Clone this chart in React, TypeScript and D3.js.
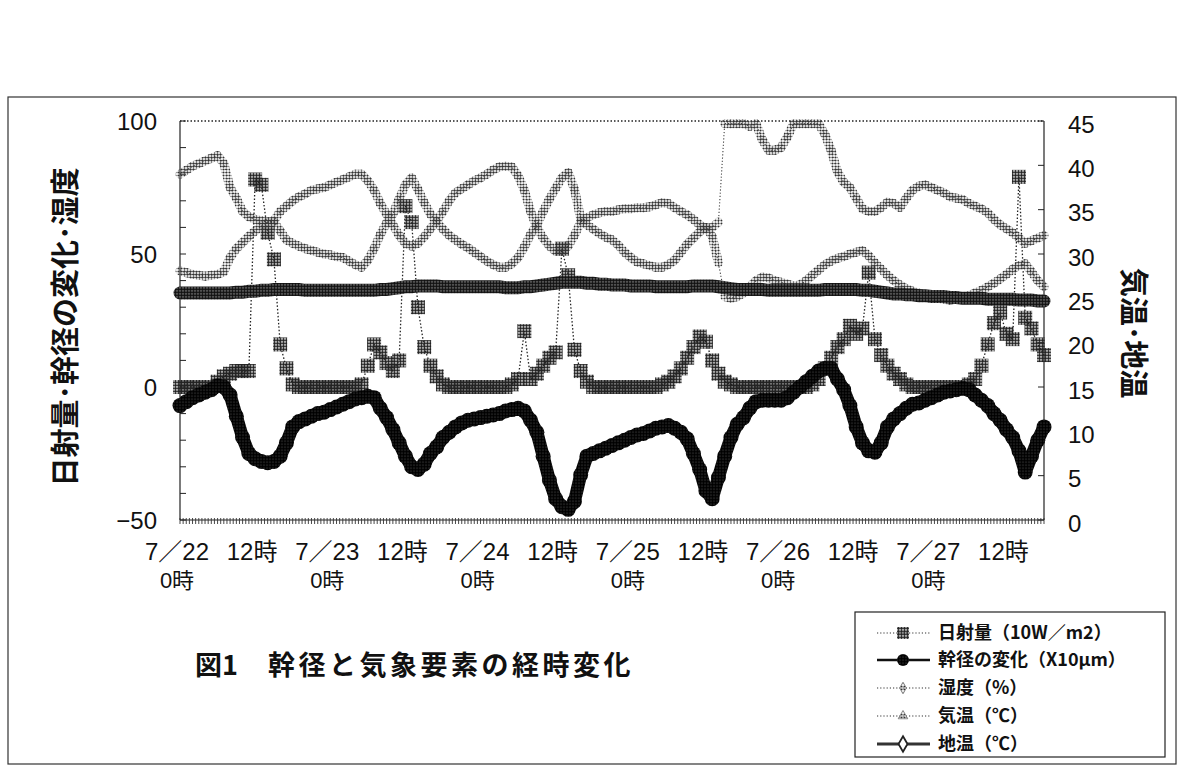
import React, { useEffect, useRef } from 'react';
import * as d3 from 'd3';

// hourly readings, index = hours from 7/22 0時
const radiation = [
  0, 0, 0, 0, 0, 0, 2, 4, 5, 6, 6, 6,
  78, 76, 58, 48, 16, 7, 1, 0, 0, 0, 0, 0,
  0, 0, 0, 0, 0, 1, 8, 16, 13, 9, 6, 10,
  68, 62, 30, 15, 8, 4, 1, 0, 0, 0, 0, 0,
  0, 0, 0, 0, 0, 1, 3, 21, 3, 5, 8, 11,
  13, 52, 42, 14, 6, 2, 0, 0, 0, 0, 0, 0,
  0, 0, 0, 0, 0, 1, 2, 4, 7, 11, 15, 19,
  17, 10, 5, 2, 1, 0, 0, 0, 0, 0, 0, 0,
  0, 0, 0, 0, 0, 1, 3, 7, 11, 15, 18, 23,
  20, 22, 43, 18, 12, 8, 5, 3, 1, 0, 0, 0,
  0, 0, 0, 0, 0, 0, 1, 3, 8, 16, 24, 28,
  20, 18, 79, 26, 22, 16, 12,
];

const stem = [
  -7, -5.5, -4, -3, -2, -1, 0.5, 0, -3, -11, -19, -25,
  -27, -28, -28.5, -28, -26, -21, -15, -13, -12, -11, -10, -9.5,
  -8.5, -7.5, -6.5, -5.5, -4.5, -4, -3.5, -4, -8, -11.5, -16, -21,
  -26, -30, -31, -29, -25, -22.5, -19, -17, -15, -13.5, -12.5, -12,
  -11.5, -11, -10.5, -10, -9, -8.5, -8, -9, -12.5, -17, -26, -35,
  -42, -45, -46, -43, -33, -26, -25, -24, -23, -22, -21, -20,
  -19, -18, -17.5, -16.5, -15.5, -15, -14.5, -15.5, -17, -19.5, -25, -31,
  -39, -42, -34, -26, -19, -14, -11.5, -8, -5.5, -5, -5, -5,
  -5, -4, -2, 0, 2, 4, 6, 7, 7, 3, -1, -7,
  -15, -21, -24, -24.5, -21, -15, -12, -10, -8, -6.5, -6, -5,
  -4, -3, -2, -1.5, -1, -0.5, -1, -3, -5, -7, -10, -12.5,
  -16, -19, -24, -32, -26, -20, -15,
];

const humidity = [
  80, 81.5, 83, 84, 85, 86, 87, 84, 75, 71, 66, 64,
  63, 62.5, 62, 62.5, 66, 68, 70, 71.5, 72.6, 74, 74.5, 75,
  76, 77, 78, 79, 80, 80, 77.5, 74, 69, 65, 61, 57,
  54, 53, 54, 56.5, 59.5, 62.5, 66, 70, 73, 74.5, 76, 77.5,
  78.6, 80, 81.6, 82.75, 83, 82.75, 79.4, 74, 66, 60, 56, 53,
  51, 51, 53, 57, 62, 63.6, 64.75, 65.5, 66, 66, 66.6, 67,
  67, 67.4, 67.4, 67.75, 68.5, 69.25, 69, 67.4, 66, 64.75, 63, 61,
  59.5, 60, 62, 99, 99, 99, 99, 98, 99, 93, 89, 89,
  90, 94, 99, 99, 99, 99, 99, 95, 89, 81, 77, 75,
  71, 67, 66, 66, 67.5, 69.5, 69, 67.5, 71, 74, 75.5, 76,
  75, 74, 73, 71.5, 71, 70.5, 69, 68, 67, 65.5, 63, 61,
  59.5, 58, 56, 54, 55, 56, 57,
];

const airTemp = [
  28.1, 27.9, 27.7, 27.6, 27.5, 27.6, 27.7, 28.0, 29.6, 30.6, 31.3, 32.0,
  32.6, 33.2, 33.6, 33.6, 32.6, 31.6, 31.2, 30.9, 30.6, 30.4, 30.2, 30.0,
  29.9, 29.7, 29.6, 29.2, 28.8, 28.5, 29.3, 30.6, 32.2, 33.5, 34.5, 36.2,
  37.8, 38.6, 37.3, 35.8, 34.5, 33.6, 32.8, 32.1, 31.6, 31.1, 30.7, 30.2,
  29.7, 29.2, 28.8, 28.5, 28.5, 28.9, 29.6, 30.8, 32.2, 33.3, 34.8, 36.2,
  37.4, 38.6, 39.2, 37.3, 34.0, 33.3, 32.8, 32.3, 31.9, 31.6, 31.0, 30.2,
  29.6, 29.1, 28.9, 28.7, 28.5, 28.5, 28.8, 29.3, 30.2, 31.1, 31.8, 32.5,
  33.0, 32.0, 29.0, 25.2, 25.0, 25.2, 25.6, 26.3, 27.0, 27.4, 27.3, 27.0,
  26.8, 26.6, 26.4, 26.5, 27.0, 27.6, 28.2, 28.8, 29.2, 29.5, 29.7, 30.0,
  30.2, 30.4, 29.8, 29.0, 28.3, 27.6, 27.0, 26.5, 26.1, 25.8, 25.6, 25.3,
  25.1, 25.0, 24.9, 24.8, 24.9, 25.1, 25.3, 25.6, 25.9, 26.3, 26.7, 27.2,
  27.7, 28.3, 28.7, 28.9, 28.0, 27.0, 26.3,
];

const soilTemp = [
  25.6, 25.6, 25.6, 25.6, 25.6, 25.6, 25.6, 25.6, 25.6, 25.7, 25.7, 25.8,
  25.8, 25.9, 25.9, 26.0, 26.0, 26.0, 26.0, 26.0, 25.9, 25.9, 25.9, 25.9,
  25.9, 25.9, 25.9, 25.9, 25.9, 25.9, 25.9, 25.9, 26.0, 26.0, 26.1, 26.2,
  26.3, 26.3, 26.4, 26.4, 26.4, 26.4, 26.3, 26.3, 26.3, 26.3, 26.3, 26.3,
  26.3, 26.3, 26.3, 26.3, 26.2, 26.2, 26.2, 26.3, 26.3, 26.4, 26.5, 26.6,
  26.7, 26.8, 26.8, 26.8, 26.8, 26.7, 26.7, 26.6, 26.6, 26.5, 26.5, 26.5,
  26.4, 26.4, 26.4, 26.4, 26.3, 26.3, 26.3, 26.3, 26.3, 26.3, 26.4, 26.4,
  26.4, 26.4, 26.3, 26.2, 26.1, 26.0, 26.0, 26.0, 26.0, 26.0, 25.9, 25.9,
  25.9, 25.9, 25.9, 25.9, 25.9, 25.9, 25.9, 26.0, 26.0, 26.0, 26.0, 26.0,
  26.0, 25.9, 25.9, 25.8, 25.7, 25.6, 25.5, 25.5, 25.4, 25.4, 25.3, 25.3,
  25.2, 25.2, 25.2, 25.1, 25.1, 25.0, 25.0, 25.0, 25.0, 24.9, 24.9, 24.9,
  24.9, 24.9, 24.8, 24.8, 24.8, 24.7, 24.7,
];

// x labels every 12 hours
const xLabelTop = ['7／22', '12時', '7／23', '12時', '7／24', '12時', '7／25', '12時', '7／26', '12時', '7／27', '12時'];
const xLabelBottom = ['0時', '', '0時', '', '0時', '', '0時', '', '0時', '', '0時', ''];
const leftLabels = [100, 50, 0, -50];
const rightLabels = [45, 40, 35, 30, 25, 20, 15, 10, 5, 0];
const legendNames = ['日射量（10W／m2）', '幹径の変化（X10μm）', '湿度（%）', '気温（℃）', '地温（℃）'];

const JP = '"Noto Sans CJK JP", sans-serif';
const NUM = '"Liberation Sans", Arial, "Noto Sans CJK JP", sans-serif';

function App() {
  const ref = useRef<SVGSVGElement>(null);

  useEffect(() => {
    const svg = d3.select(ref.current);
    svg.selectAll('*').remove();

    const left = 180, right = 1044, top = 121, bottom = 520;
    const x = d3.scaleLinear().domain([0, radiation.length - 1]).range([left, right]);
    const yL = d3.scaleLinear().domain([-50, 100]).range([bottom, top]);
    const yR = d3.scaleLinear().domain([0, 45]).range([bottom, top]);

    // halftone patterns, like the scan
    const defs = svg.append('defs');
    const dots = (id: string, r: number, fill: string, bg?: string) => {
      const p = defs.append('pattern').attr('id', id)
        .attr('width', 3).attr('height', 3).attr('patternUnits', 'userSpaceOnUse');
      if (bg) p.append('rect').attr('width', 3).attr('height', 3).attr('fill', bg);
      p.append('circle').attr('cx', 1.5).attr('cy', 1.5).attr('r', r).attr('fill', fill);
    };
    dots('lite', 1.1, '#333');
    dots('mid', 1.4, '#222');
    dots('band', 1.45, '#111', '#7a7a7a');
    dots('dark', 1.5, '#000', '#2e2e2e');

    svg.append('rect').attr('width', 1178).attr('height', 767).attr('fill', '#fff');
    svg.append('rect').attr('x', 8).attr('y', 97).attr('width', 1168).attr('height', 667)
      .attr('fill', 'none').attr('stroke', '#333').attr('stroke-width', 1.2);

    // plot frame
    svg.append('line').attr('x1', left).attr('x2', right).attr('y1', top).attr('y2', top)
      .attr('stroke', '#222').attr('stroke-width', 1.3).attr('stroke-dasharray', '1.5 2');
    [left, right].forEach((xx) => {
      svg.append('line').attr('x1', xx).attr('x2', xx).attr('y1', top).attr('y2', bottom)
        .attr('stroke', '#222').attr('stroke-width', 1.2);
    });
    svg.append('line').attr('x1', left).attr('x2', right).attr('y1', bottom).attr('y2', bottom)
      .attr('stroke', '#222').attr('stroke-width', 1.2);

    // dense category ticks on bottom axis
    svg.append('g').selectAll('line').data(d3.range(0, radiation.length - 0.9, 0.5)).join('line')
      .attr('x1', (d) => x(d)).attr('x2', (d) => x(d))
      .attr('y1', bottom - 2).attr('y2', bottom + 4)
      .attr('stroke', '#333').attr('stroke-width', 0.9);

    svg.append('g').selectAll('line').data(d3.range(-50, 101, 10)).join('line')
      .attr('x1', left).attr('x2', left + 6).attr('y1', (d) => yL(d)).attr('y2', (d) => yL(d))
      .attr('stroke', '#222');
    svg.append('g').selectAll('line').data(d3.range(0, 46, 5)).join('line')
      .attr('x1', right - 6).attr('x2', right).attr('y1', (d) => yR(d)).attr('y2', (d) => yR(d))
      .attr('stroke', '#222');

    // tick labels
    svg.append('g').selectAll('text').data(leftLabels).join('text')
      .attr('x', 157).attr('y', (d) => yL(d)).attr('dy', '0.36em')
      .attr('text-anchor', 'end').style('font-family', NUM).style('font-size', '24px')
      .attr('fill', '#111').text((d) => (d < 0 ? '−' + Math.abs(d) : String(d)));
    svg.append('g').selectAll('text').data(rightLabels).join('text')
      .attr('x', 1068).attr('y', (d) => yR(d) + 3).attr('dy', '0.36em')
      .attr('text-anchor', 'start').style('font-family', NUM).style('font-size', '24px')
      .attr('fill', '#111').text((d) => String(d));
    svg.append('g').selectAll('text').data(xLabelTop).join('text')
      .attr('x', (d, i) => x(i * 12) - 3).attr('y', 560)
      .attr('text-anchor', 'middle').style('font-family', NUM).style('font-size', '24px')
      .attr('fill', '#111').text((d) => d);
    svg.append('g').selectAll('text').data(xLabelBottom).join('text')
      .attr('x', (d, i) => x(i * 12) - 3).attr('y', 588)
      .attr('text-anchor', 'middle').style('font-family', NUM).style('font-size', '22px')
      .attr('fill', '#111').text((d) => d);

    // axis titles
    svg.append('text').attr('transform', 'translate(66,327) rotate(-90)')
      .attr('text-anchor', 'middle').attr('dy', '0.35em')
      .style('font-family', JP).style('font-size', '29px').style('font-weight', 'bold')
      .attr('fill', '#111').text('日射量･幹径の変化･湿度');
    svg.append('text').attr('transform', 'translate(1133,333) rotate(90)')
      .attr('text-anchor', 'middle').attr('dy', '0.35em')
      .style('font-family', JP).style('font-size', '29px').style('font-weight', 'bold')
      .attr('fill', '#111').text('気温･地温');

    const lineL = d3.line<number>().x((d, i) => x(i)).y((d) => yL(d));
    const lineR = d3.line<number>().x((d, i) => x(i)).y((d) => yR(d));

    // 日射量: dotted line + square markers
    svg.append('path').datum(radiation).attr('d', lineL).attr('fill', 'none')
      .attr('stroke', '#222').attr('stroke-width', 1.3).attr('stroke-dasharray', '1.5 2');
    svg.append('g').selectAll('rect').data(radiation).join('rect')
      .attr('x', (d, i) => x(i) - 7).attr('y', (d) => yL(d) - 7)
      .attr('width', 14).attr('height', 14).attr('fill', 'url(#mid)');

    // beaded line for 湿度 / 気温: thin dotted where it jumps
    const beads = (vals: number[], y: (v: number) => number) => {
      const g = svg.append('g');
      const pts = vals.map((v, i) => [x(i), y(v)] as [number, number]);
      g.append('path').attr('d', d3.line()(pts)).attr('fill', 'none')
        .attr('stroke', '#444').attr('stroke-width', 1.1).attr('stroke-dasharray', '1.2 2');
      g.selectAll('line').data(d3.pairs(pts).filter(([a, b]) => Math.abs(a[1] - b[1]) < 30)).join('line')
        .attr('x1', (d) => d[0][0]).attr('y1', (d) => d[0][1])
        .attr('x2', (d) => d[1][0]).attr('y2', (d) => d[1][1])
        .attr('stroke', 'url(#lite)').attr('stroke-width', 9).attr('stroke-linecap', 'round');
    };
    beads(humidity, yL);
    beads(airTemp, yR);

    // 地温 band
    svg.append('path').datum(soilTemp).attr('d', lineR).attr('fill', 'none')
      .attr('stroke', 'url(#band)').attr('stroke-width', 13).attr('stroke-linecap', 'round');

    // 幹径の変化
    svg.append('path').datum(stem).attr('d', lineL).attr('fill', 'none')
      .attr('stroke', 'url(#dark)').attr('stroke-width', 13)
      .attr('stroke-linejoin', 'round').attr('stroke-linecap', 'round');
    svg.append('g').selectAll('circle').data(stem).join('circle')
      .attr('cx', (d, i) => x(i)).attr('cy', (d) => yL(d)).attr('r', 7.5).attr('fill', 'url(#dark)');

    // title
    svg.append('text').attr('x', 195).attr('y', 675)
      .style('font-family', JP).style('font-size', '27px').style('font-weight', 'bold')
      .attr('fill', '#111').text('図1');
    svg.append('text').attr('x', 268).attr('y', 675)
      .style('font-family', JP).style('font-size', '27px').style('font-weight', 'bold')
      .style('letter-spacing', '3.5px').attr('fill', '#111').text('幹径と気象要素の経時変化');

    // legend
    const lg = svg.append('g');
    lg.append('rect').attr('x', 855).attr('y', 612).attr('width', 310).attr('height', 145)
      .attr('fill', '#fff').attr('stroke', '#222').attr('stroke-width', 1.2);
    const rows = [633, 660, 688, 716, 744];
    legendNames.forEach((name, i) => {
      const cy = rows[i];
      const dash = i === 1 || i === 4 ? null : '1.2 2';
      lg.append('line').attr('x1', 877).attr('x2', 930).attr('y1', cy).attr('y2', cy)
        .attr('stroke', i === 1 ? '#111' : '#333')
        .attr('stroke-width', i === 1 ? 2.5 : i === 4 ? 3 : 1.1)
        .attr('stroke-dasharray', dash);
      if (i === 0) {
        lg.append('rect').attr('x', 897).attr('y', cy - 6).attr('width', 12).attr('height', 12).attr('fill', 'url(#mid)');
      } else if (i === 1) {
        lg.append('circle').attr('cx', 903).attr('cy', cy).attr('r', 6).attr('fill', 'url(#dark)');
      } else {
        const sym = i === 3 ? d3.symbolTriangle : d3.symbolDiamond;
        lg.append('path').attr('transform', `translate(903,${cy})`)
          .attr('d', d3.symbol().type(sym).size(i === 4 ? 70 : 40)())
          .attr('fill', i === 4 ? '#fff' : 'url(#lite)')
          .attr('stroke', i === 4 ? '#222' : '#777').attr('stroke-width', i === 4 ? 1.8 : 0.8);
      }
      lg.append('text').attr('x', 938).attr('y', cy).attr('dy', '0.36em')
        .style('font-family', JP).style('font-size', '18px').style('font-weight', 'bold')
        .attr('fill', '#111').text(name);
    });
  }, []);

  return (
    <svg ref={ref} width={1178} height={767}
      style={{ position: 'absolute', left: 0, top: 0, background: '#fff' }} />
  );
}

export default App;
